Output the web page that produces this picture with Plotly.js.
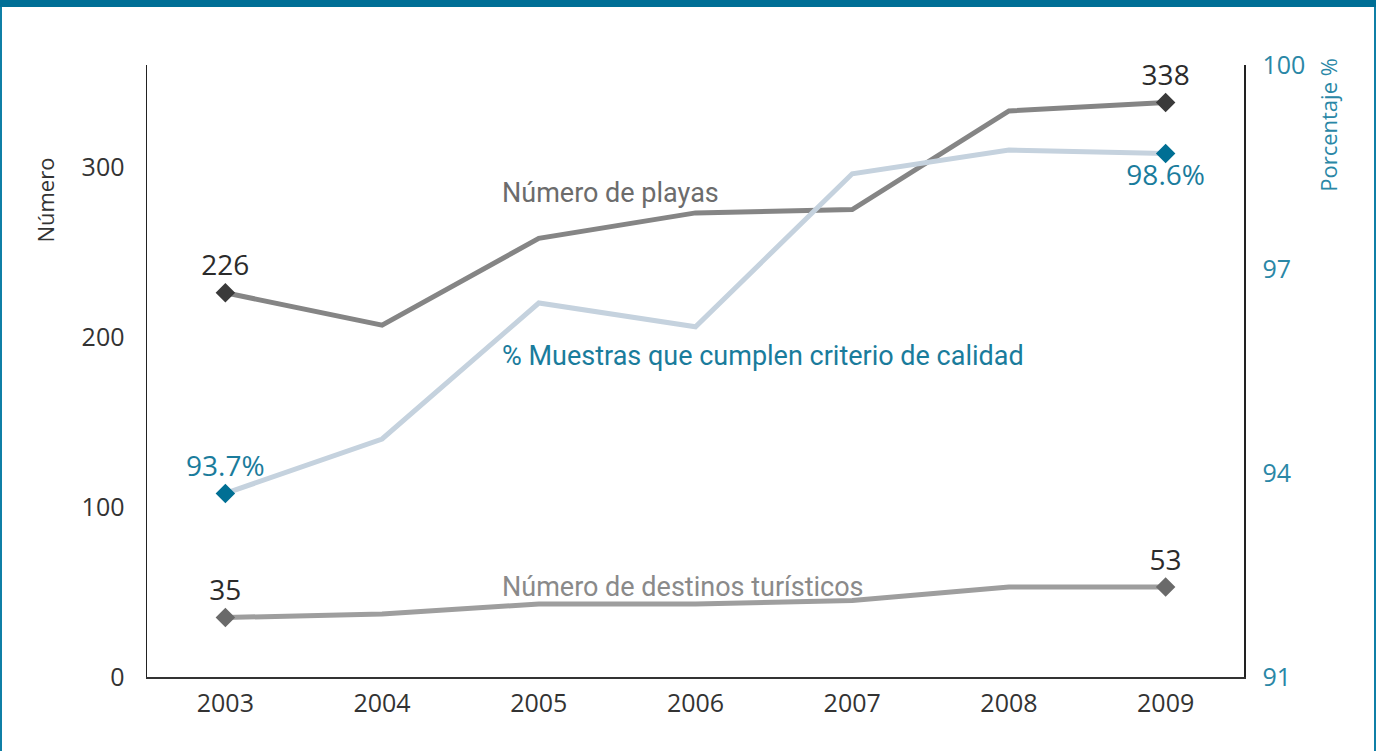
<!DOCTYPE html>
<html>
<head>
<meta charset="utf-8">
<script src="https://cdn.plot.ly/plotly-3.0.1.min.js"></script>
<style>
  html, body { margin: 0; padding: 0; background: #fff; overflow: hidden; }
  #frame { position: relative; width: 1376px; height: 751px; box-sizing: border-box;
           border-left: 2px solid #0f7fa6; border-right: 2px solid #0f7fa6; }
  #bar { position: absolute; left: 0; top: 0; width: 1376px; height: 7px; background: #006f96; z-index: 2; }
  #chart { position: absolute; left: 0; top: 0; }
</style>
</head>
<body>
<div id="bar"></div>
<div id="frame"><div id="chart"></div></div>
<script>
// ---- data ----
const years = [2003, 2004, 2005, 2006, 2007, 2008, 2009];
const playas = [226, 207, 258, 273, 275, 333, 338];
const destinos = [35, 37, 43, 43, 45, 53, 53];
const porcentaje = [93.7, 94.5, 96.5, 96.15, 98.4, 98.75, 98.7];
const playasLabels = ["226", "", "", "", "", "", "338"];
const destinosLabels = ["35", "", "", "", "", "", "53"];
const porcentajeLabels = ["93.7%", "", "", "", "", "", "98.6%"];
const leftTicks = [0, 100, 200, 300];
const rightTicks = [91, 94, 97, 100];

const FONT = "Open Sans, Noto Sans, DejaVu Sans, sans-serif";
const NARROW = "Liberation Sans Narrow, Roboto, Noto Sans, sans-serif";
const endSizes = years.map((_, i) => (i === 0 || i === years.length - 1) ? 15 : 0);

const traces = [
  {
    x: years, y: porcentaje, yaxis: 'y2', type: 'scatter', mode: 'lines+markers+text',
    line: {color: '#c5d2de', width: 5},
    marker: {symbol: 'diamond', size: endSizes, color: '#006f94', opacity: 1, line: {width: 0}},
    text: porcentajeLabels, textposition: ['top center','top center','top center','top center','top center','top center','bottom center'],
    textfont: {family: FONT, size: 28, color: '#1a7c9c'},
    cliponaxis: false, hoverinfo: 'skip'
  },
  {
    x: years, y: playas, type: 'scatter', mode: 'lines+markers+text',
    line: {color: '#858585', width: 5},
    marker: {symbol: 'diamond', size: endSizes, color: '#3a3a3a', opacity: 1, line: {width: 0}},
    text: playasLabels, textposition: 'top center',
    textfont: {family: FONT, size: 28, color: '#2b2b2b'},
    cliponaxis: false, hoverinfo: 'skip'
  },
  {
    x: years, y: destinos, type: 'scatter', mode: 'lines+markers+text',
    line: {color: '#9e9e9e', width: 5},
    marker: {symbol: 'diamond', size: endSizes, color: '#6a6a6a', opacity: 1, line: {width: 0}},
    text: destinosLabels, textposition: 'top center',
    textfont: {family: FONT, size: 28, color: '#2b2b2b'},
    cliponaxis: false, hoverinfo: 'skip'
  }
];

const layout = {
  width: 1376, height: 751,
  margin: {l: 145, r: 134, t: 65, b: 74},
  paper_bgcolor: 'rgba(0,0,0,0)', plot_bgcolor: 'rgba(0,0,0,0)',
  showlegend: false,
  font: {family: FONT, color: '#333'},
  xaxis: {
    range: [2002.5, 2009.5], tickvals: years, ticktext: years.map(String),
    showgrid: false, zeroline: false, showline: true, linecolor: '#333', linewidth: 1.5,
    ticks: '', ticklabelstandoff: 3,
    tickfont: {family: FONT, size: 25, color: '#333'}
  },
  yaxis: {
    range: [0, 360], tickvals: leftTicks,
    showgrid: false, zeroline: false, showline: true, linecolor: '#222', linewidth: 1.5,
    ticks: '', ticklabelstandoff: 16,
    tickfont: {family: FONT, size: 25, color: '#333'}
  },
  yaxis2: {
    range: [91, 100], tickvals: rightTicks, overlaying: 'y', side: 'right',
    showgrid: false, zeroline: false, showline: true, linecolor: '#222', linewidth: 1.5,
    ticks: '', ticklabelstandoff: 12,
    tickfont: {family: FONT, size: 25, color: '#2a87a6'}
  },
  annotations: [
    {x: 2004.75, y: 285, xref: 'x', yref: 'y', xanchor: 'left', yanchor: 'middle', showarrow: false,
     text: 'Número de playas', font: {family: NARROW, size: 27, color: '#6c6c6c'}},
    {x: 2004.75, y: 189, xref: 'x', yref: 'y', xanchor: 'left', yanchor: 'middle', showarrow: false,
     text: '% Muestras que cumplen criterio de calidad', font: {family: NARROW, size: 27, color: '#1a7c9c'}},
    {x: 2004.75, y: 53, xref: 'x', yref: 'y', xanchor: 'left', yanchor: 'middle', showarrow: false,
     text: 'Número de destinos turísticos', font: {family: NARROW, size: 27, color: '#8a8a8a'}},
    {x: -0.093, y: 0.78, xref: 'paper', yref: 'paper', xanchor: 'center', yanchor: 'middle', showarrow: false,
     textangle: -90, text: 'Número', font: {family: FONT, size: 22, color: '#333'}},
    {x: 1.077, y: 0.903, xref: 'paper', yref: 'paper', xanchor: 'center', yanchor: 'middle', showarrow: false,
     textangle: -90, text: 'Porcentaje %', font: {family: FONT, size: 22, color: '#2a87a6'}}
  ]
};

Plotly.newPlot('chart', traces, layout, {displayModeBar: false, staticPlot: true});
</script>
</body>
</html>
